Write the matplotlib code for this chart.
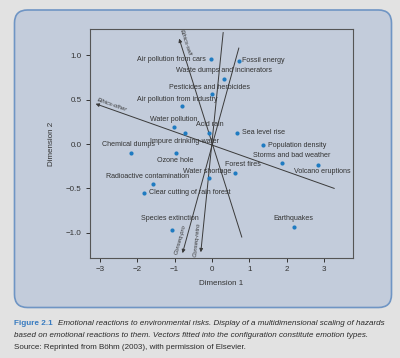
import matplotlib
matplotlib.use("Agg")
import matplotlib.pyplot as plt
from matplotlib.patches import FancyBboxPatch

plt.rcParams["font.family"] = ["Liberation Sans", "DejaVu Sans"]

# hazards: name, dimension 1, dimension 2
hazards = [
    "Air pollution from cars", "Fossil energy", "Waste dumps and incinerators",
    "Pesticides and herbicides", "Air pollution from industry", "Water pollution",
    "Impure drinking-water", "Acid rain", "Sea level rise", "Population density",
    "Storms and bad weather", "Volcano eruptions", "Forest fires", "Water shortage",
    "Ozone hole", "Chemical dumps", "Radioactive contamination",
    "Clear cutting of rain forest", "Species extinction", "Earthquakes",
]
dim1 = [-0.02, 0.72, 0.32, -0.01, -0.81, -1.02, -0.72, -0.08, 0.66, 1.37,
        1.87, 2.83, 0.61, -0.07, -0.97, -2.18, -1.57, -1.82, -1.06, 2.21]
dim2 = [0.96, 0.94, 0.74, 0.565, 0.43, 0.19, 0.12, 0.13, 0.13, -0.01,
        -0.21, -0.23, -0.33, -0.38, -0.10, -0.10, -0.45, -0.55, -0.97, -0.93]

# fitted emotion vectors: name, arrow head, tail
vec_names = ["Ethics-other", "Ethics-self", "Conseq-retro", "Conseq-pro"]
vec_head = [(-3.12, 0.455), (-0.88, 1.19), (-0.30, -1.22), (-0.79, -1.23)]
vec_tail = [(3.28, -0.50), (0.80, -1.05), (0.30, 1.26), (0.72, 1.085)]

# label placement (offset in pixels, alignment)
label_pos = {
    "Air pollution from cars": (-5, 0, "right"),
    "Fossil energy": (3, 0, "left"),
    "Waste dumps and incinerators": (0, 8, "center"),
    "Pesticides and herbicides": (-2, 7, "center"),
    "Air pollution from industry": (-4, 7, "center"),
    "Water pollution": (0, 8, "center"),
    "Impure drinking-water": (-1, -8, "center"),
    "Acid rain": (1, 8, "center"),
    "Sea level rise": (5, 0, "left"),
    "Population density": (5, 0, "left"),
    "Storms and bad weather": (10, 7, "center"),
    "Volcano eruptions": (5, -7, "center"),
    "Forest fires": (8, 9, "center"),
    "Water shortage": (-2, 6, "center"),
    "Ozone hole": (-1, -8, "center"),
    "Chemical dumps": (-2, 8, "center"),
    "Radioactive contamination": (-6, 8, "center"),
    "Clear cutting of rain forest": (5, 0, "left"),
    "Species extinction": (-3, 12, "center"),
    "Earthquakes": (-1, 8, "center"),
}
vec_label = {
    "Ethics-other": (-2.68, 0.444, -19.5),
    "Ethics-self": (-0.70, 1.145, -72),
    "Conseq-retro": (-0.40, -1.08, 84),
    "Conseq-pro": (-0.86, -1.08, 74.6),
}

fig = plt.figure(figsize=(4, 3.58), dpi=100)
fig.patch.set_facecolor("#e2e2e2")

# background panel drawn in pixel units
bg = fig.add_axes([0, 0, 1, 1], zorder=-1)
bg.set_xlim(0, 400)
bg.set_ylim(358, 0)
bg.axis("off")
bg.add_patch(FancyBboxPatch((14.5, 10), 377, 297.5, boxstyle="round,pad=0,rounding_size=13",
                            facecolor="#c3ccdb", edgecolor="#6f95c4", linewidth=1.2))

ax = fig.add_axes([0.225, 0.2793, 0.6575, 0.640])
ax.set_facecolor("none")
ax.set_xlim(-3.27, 3.78)
ax.set_ylim(-1.285, 1.30)

for name, head, tail in zip(vec_names, vec_head, vec_tail):
    ax.annotate("", xy=head, xytext=tail,
                arrowprops=dict(arrowstyle="-|>", color="#3a3a3a", lw=0.7,
                                mutation_scale=5, shrinkA=0, shrinkB=0))
    lx, ly, rot = vec_label[name]
    ax.text(lx, ly, name, fontsize=4.2, style="italic", color="#333333",
            rotation=rot, rotation_mode="anchor", ha="center", va="center")

ax.scatter(dim1, dim2, s=9, color="#1f7bc1", zorder=3, linewidths=0)
for name, x, y in zip(hazards, dim1, dim2):
    dx, dy, ha = label_pos[name]
    ax.annotate(name, (x, y), xytext=(dx, dy), textcoords="offset pixels",
                ha=ha, va="center", fontsize=5.1, color="#333333")

ax.set_xticks([-3, -2, -1, 0, 1, 2, 3])
ax.set_yticks([-1.0, -0.5, 0.0, 0.5, 1.0])
ax.set_xticklabels(["\u22123", "\u22122", "\u22121", "0", "1", "2", "3"])
ax.set_yticklabels(["\u22121.0", "\u22120.5", "0.0", "0.5", "1.0"])
ax.tick_params(labelsize=5.8, colors="#333333", length=3, width=0.7, pad=3)
for s in ax.spines.values():
    s.set_color("#555555")
    s.set_linewidth(0.8)
ax.set_xlabel("Dimension 1", fontsize=5.8, color="#333333", labelpad=5)
ax.set_ylabel("Dimension 2", fontsize=5.8, color="#333333", labelpad=8)

# caption
fig.text(14 / 400, 1 - 323.5 / 358, "Figure 2.1", fontsize=5.9, color="#3a7cc0",
         weight="bold", va="center")
fig.text(58 / 400, 1 - 323.5 / 358,
         "Emotional reactions to environmental risks. Display of a multidimensional scaling of hazards",
         fontsize=5.8, style="italic", color="#2a2a2a", va="center")
fig.text(14 / 400, 1 - 335.5 / 358,
         "based on emotional reactions to them. Vectors fitted into the configuration constitute emotion types.",
         fontsize=5.8, style="italic", color="#2a2a2a", va="center")
fig.text(14 / 400, 1 - 347.5 / 358,
         "Source: Reprinted from B\u00f6hm (2003), with permission of Elsevier.",
         fontsize=5.8, color="#2a2a2a", va="center")

fig.savefig("out.png", dpi=100, facecolor=fig.get_facecolor())
